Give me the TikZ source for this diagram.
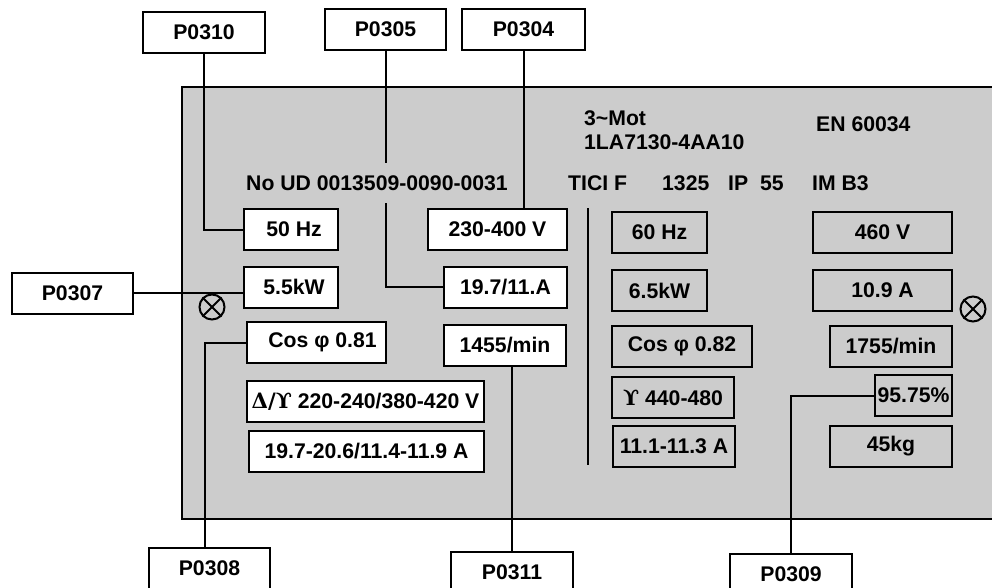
\documentclass[tikz,border=0pt]{standalone}
\usepackage{fontspec}
\setmainfont{Liberation Sans}
\newfontfamily\grkfont{DejaVu Serif}
\definecolor{plategray}{RGB}{204,204,204}
\tikzset{
  lbl/.style={font=\fontsize{21.2}{25}\selectfont\bfseries, inner sep=2pt},
  wbox/.style={lbl, draw, fill=white, line width=2pt, inner sep=0pt,
    minimum height=41pt, minimum width=#1},
  gbox/.style={wbox=#1, fill=plategray},
  conn/.style={line width=2pt},
  screw/.style={draw, circle, line width=2pt, minimum size=25pt, inner sep=0pt}
}

\begin{document}
\begin{tikzpicture}[x=1pt, y=-1pt]
		%%%%% START %%%%%
		\useasboundingbox (0,0) rectangle (992,587);
		\clip (0,0) rectangle (992,587);
		
		% rating plate
		\draw[fill=plategray, line width=2.2pt] (182, 87) rectangle (1010, 519);
		\draw[conn] (588, 208) -- (588, 465);
		
		% parameter tags
		\node[wbox=122] (p0310) at (204, 32) {P0310};
		\node[wbox=121] (p0305) at (385.5, 29) {P0305};
		\node[wbox=123] (p0304) at (523.5, 29) {P0304};
		\node[wbox=121] (p0307) at (72.5, 293) {P0307};
		\node[wbox=121] (p0308) at (209.5, 568) {P0308};
		\node[wbox=122] (p0311) at (512, 572) {P0311};
		\node[wbox=122] (p0309) at (791, 574) {P0309};
		
		% 50 Hz data
		\node[wbox=94] (hz50) at (291, 229.5) {\hspace{6pt}50 Hz};
		\node[wbox=94] (kw55) at (291, 287) {\hspace{6pt}5.5kW};
		\node[wbox=139] (volt) at (497.5, 229.5) {230-400 V};
		\node[wbox=123] (amp) at (505.5, 287) {19.7/11.A};
		\node[wbox=139] (cos81) at (316.5, 342.5) {\hspace{12pt}Cos φ 0.81};
		\node[wbox=122] (rpm) at (505, 345.5) {1455/min};
		\node[wbox=237] (delta) at (365.5, 401.5) {{\grkfont Δ/ϒ} 220-240/380-420 V};
		\node[wbox=235] (amps) at (366.5, 451) {19.7-20.6/11.4-11.9 A};
		
		% 60 Hz data
		\node[gbox=95] (hz60) at (659.5, 232.5) {60 Hz};
		\node[gbox=95] (kw65) at (659.5, 290.5) {6.5kW};
		\node[gbox=140] (cos82) at (682, 346) {Cos φ 0.82};
		\node[gbox=122] (y440) at (673, 397.5) {{\grkfont ϒ} 440-480};
		\node[gbox=122] (a113) at (674, 446.5) {11.1-11.3 A};
		\node[gbox=139] (v460) at (882.5, 232.5) {460 V};
		\node[gbox=139] (a109) at (882.5, 290.5) {10.9 A};
		\node[gbox=122] (rpm2) at (891, 346) {1755/min};
		\node[gbox=77] (eff) at (913.5, 395.5) {95.75\%};
		\node[gbox=122] (kg) at (891, 446.5) {45kg};
		
		% screws
		\node[screw] (scr1) at (212, 307) {};
		\node[screw] (scr2) at (973, 309) {};
		\foreach \s in {scr1, scr2} {
			\draw[conn] (\s.north west) -- (\s.south east);
			\draw[conn] (\s.north east) -- (\s.south west);
		}
		
		% leader lines
		\draw[conn] (p0310.south) |- (hz50.west);
		\draw[conn] (p0305.south) |- (amp.west);
		\draw[conn] (p0304.south) -- (p0304.south |- volt.north);
		\draw[conn] (p0307.east) -- (p0307.east -| kw55.west);
		\draw[conn] (cos81.west) -| ([xshift=-5pt]p0308.north);
		\draw[conn] (p0311.north) -- (p0311.north |- rpm.south);
		\draw[conn] (eff.west) -| (p0309.north);
		
		% plate texts
		\node[lbl, fill=plategray, anchor=west, minimum height=40pt, inner xsep=2pt] (serial) at (244, 183) {No UD 0013509-0090-0031};
		\node[lbl, anchor=west] (insul) at (566, 183) {TICI F};
		\node[lbl, anchor=west] (code) at (660, 183) {1325};
		\node[lbl, anchor=west] (prot) at (726, 183) {IP\ \ 55};
		\node[lbl, anchor=west] (mount) at (810, 183) {IM B3};
		\node[lbl, anchor=west] (mot) at (582, 118) {3\textasciitilde Mot};
		\node[lbl, anchor=west] (order) at (582, 142) {1LA7130-4AA10};
		\node[lbl, anchor=west] (norm) at (814, 124) {EN 60034};
		
		%%%%% END %%%%%
	\end{tikzpicture}
\end{document}
